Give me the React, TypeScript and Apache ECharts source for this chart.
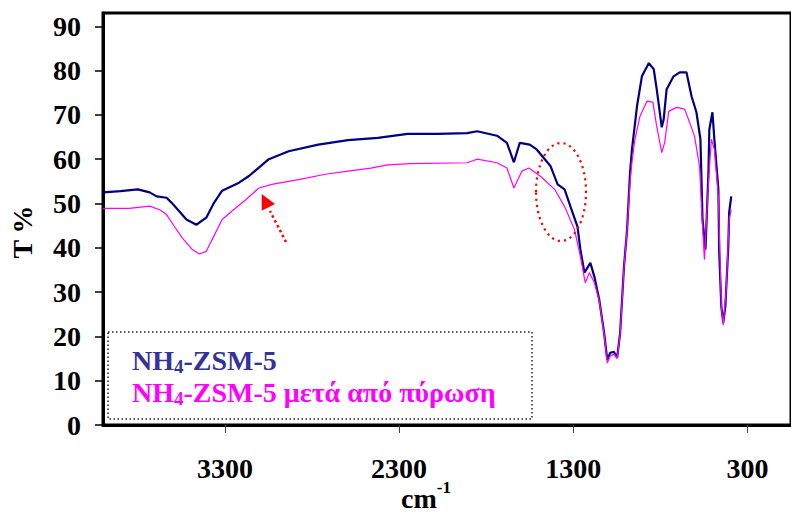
import React, { useEffect, useRef } from "react";
import * as echarts from "echarts";

// Wavenumbers (cm-1) and transmittance (%)
const navyWn = [4000, 3900, 3800, 3732, 3692, 3635, 3607, 3561, 3521, 3464, 3407, 3362, 3316, 3219, 3162, 3105, 3048, 2934, 2764, 2593, 2422, 2251, 2080, 1909, 1852, 1738, 1681, 1641, 1607, 1550, 1510, 1430, 1390, 1350, 1316, 1276, 1259, 1236, 1202, 1179, 1151, 1123, 1105, 1088, 1066, 1048, 1031, 1009, 991, 974, 963, 934, 906, 866, 838, 821, 792, 781, 764, 724, 689, 650, 621, 593, 570, 558, 541, 524, 519, 501, 490, 467, 462, 450, 439, 427, 410, 405, 393];
const navyT = [52.5, 52.8, 53.2, 52.5, 51.6, 51.3, 50.2, 48.2, 46.4, 45.2, 46.8, 50.2, 52.9, 54.7, 56.2, 58.1, 60, 61.8, 63.3, 64.3, 64.8, 65.7, 65.7, 65.9, 66.3, 65.3, 63.7, 59.3, 63.7, 63.3, 62.2, 58.4, 54.3, 53.2, 49.3, 44.8, 39.6, 34.4, 36.6, 33.5, 28.3, 20.8, 14.7, 16.3, 16.5, 15.2, 20.8, 35.7, 44.1, 57, 62.2, 72, 78.7, 81.7, 80.3, 75.8, 67.2, 69, 75.8, 78.7, 79.6, 79.6, 74.2, 70.6, 64.5, 46.4, 39.6, 57, 66.7, 70.6, 64.5, 53.2, 38.9, 26.7, 23.1, 26.7, 40.3, 48, 51.6];

const magWn = [4000, 3850, 3732, 3675, 3635, 3590, 3544, 3487, 3447, 3407, 3373, 3316, 3259, 3179, 3105, 3031, 2877, 2724, 2593, 2462, 2365, 2234, 1909, 1852, 1738, 1681, 1641, 1595, 1555, 1487, 1407, 1350, 1293, 1259, 1231, 1208, 1179, 1151, 1123, 1105, 1088, 1066, 1048, 1031, 1009, 991, 974, 963, 946, 917, 877, 843, 821, 792, 775, 752, 707, 661, 632, 604, 575, 558, 547, 524, 507, 490, 467, 450, 439, 422, 405, 393];
const magT = [48.9, 48.9, 49.4, 48.6, 47.5, 44.8, 42.2, 39.6, 38.6, 39.2, 41.9, 46.4, 48.3, 50.9, 53.5, 54.3, 55.4, 56.6, 57.3, 58, 58.7, 59, 59.2, 60, 59.2, 58, 53.5, 57.3, 58, 56.1, 53.2, 49.3, 44.1, 38, 32.1, 34.4, 32.1, 28, 20.5, 14, 15.5, 16, 15, 20.5, 35.5, 44, 55, 59.3, 64.5, 69.7, 73.1, 72.9, 67.4, 61.5, 63.8, 70.8, 71.7, 71.3, 68.3, 65.2, 58.4, 44.8, 37.3, 54.8, 64.5, 62.2, 51.6, 26.7, 22.6, 30.5, 46.4, 48.6];

const xTicks = [300, 1300, 2300, 3300];
const yTicks = [0, 10, 20, 30, 40, 50, 60, 70, 80, 90];

const seriesNames = ["NH4-ZSM-5", "NH4-ZSM-5 μετά από πύρωση"];

const FONT = "'Liberation Serif', 'Times New Roman', serif";

export default function App() {
  const ref = useRef<HTMLDivElement>(null);
  useEffect(() => {
    if (!ref.current) return;
    const chart = echarts.init(ref.current, undefined, { renderer: "svg" });
    const navyData = navyWn.map((w, i) => [w, navyT[i]]);
    const magData = magWn.map((w, i) => [w, magT[i]]);
    const sub = (name: string) => {
      const parts = name.split("4");
      return "{n|" + parts[0] + "}{s|4}{n|" + parts.slice(1).join("4") + "}";
    };
    chart.setOption({
      animation: false,
      backgroundColor: "#ffffff",
      grid: {
        left: 103,
        right: -5,
        top: 13,
        bottom: 90,
        show: true,
        borderColor: "#000",
        borderWidth: 3,
        containLabel: false,
      },
      xAxis: {
        type: "value",
        inverse: true,
        min: 50,
        max: 4000,
        splitLine: { show: false },
        axisLine: { show: true, lineStyle: { color: "#000", width: 3 } },
        axisTick: {
          show: true,
          customValues: xTicks,
          length: 8,
          lineStyle: { color: "#444", width: 1 },
        },
        axisLabel: {
          customValues: xTicks,
          formatter: (v: number) => String(v),
          margin: 29,
          fontFamily: FONT,
          fontWeight: "bold",
          fontSize: 28,
          color: "#000",
        },
      },
      yAxis: {
        type: "value",
        min: 0,
        max: 93,
        splitLine: { show: false },
        axisLine: { show: true, lineStyle: { color: "#000", width: 3 } },
        axisTick: {
          show: true,
          customValues: yTicks,
          length: 8,
          lineStyle: { color: "#000", width: 1.5 },
        },
        axisLabel: {
          customValues: yTicks,
          formatter: (v: number) => String(v),
          margin: 22,
          fontFamily: FONT,
          fontWeight: "bold",
          fontSize: 28,
          color: "#000",
        },
      },
      legend: {
        orient: "vertical",
        left: 127,
        top: 345,
        padding: 0,
        itemGap: 1,
        itemWidth: 0,
        itemHeight: 28,
        icon: "none",
        selectedMode: false,
        formatter: (name: string) => sub(name),
        data: [
          { name: seriesNames[0], textStyle: { color: "#333399" } },
          { name: seriesNames[1], textStyle: { color: "#FF00FF" } },
        ],
        textStyle: {
          fontFamily: FONT,
          fontWeight: "bold",
          fontSize: 28,
          rich: {
            n: { fontFamily: FONT, fontWeight: "bold", fontSize: 28, lineHeight: 28 },
            s: {
              fontFamily: FONT,
              fontWeight: "bold",
              fontSize: 19,
              lineHeight: 19,
              padding: [12, 0, 0, 0],
            },
          },
        },
      },
      series: [
        {
          name: seriesNames[0],
          type: "line",
          data: navyData,
          symbol: "none",
          lineStyle: { color: "#000080", width: 2.2 },
          itemStyle: { color: "#000080" },
          z: 2,
        },
        {
          name: seriesNames[1],
          type: "line",
          data: magData,
          symbol: "none",
          lineStyle: { color: "#FF00FF", width: 1.2 },
          itemStyle: { color: "#FF00FF" },
          z: 3,
        },
      ],
      graphic: [
        {
          type: "rect",
          shape: { x: 108, y: 332, width: 424, height: 87 },
          style: { fill: "none", stroke: "#222", lineWidth: 1.5, lineDash: [1.5, 2.5] },
          z: 10,
        },
        {
          type: "ellipse",
          shape: { cx: 561, cy: 192, rx: 25, ry: 49 },
          style: { fill: "none", stroke: "#FF0000", lineWidth: 2.2, lineDash: [2.2, 4] },
          z: 10,
        },
        {
          type: "line",
          shape: { x1: 286, y1: 242, x2: 270, y2: 211 },
          style: { stroke: "#FF0000", lineWidth: 2.5, lineDash: [2.5, 3] },
          z: 10,
        },
        {
          type: "polygon",
          shape: { points: [[261.7, 194], [261.7, 210.7], [275, 204]] },
          style: { fill: "#FF0000" },
          z: 10,
        },
        {
          type: "text",
          x: 22.5,
          y: 232,
          rotation: Math.PI / 2,
          style: {
            text: "T %",
            font: "bold 28px " + FONT,
            fill: "#000",
            align: "center",
            verticalAlign: "middle",
          },
          z: 10,
        },
        {
          type: "text",
          x: 401,
          y: 481.5,
          style: {
            text: "{a|cm}{b|-1}",
            fill: "#000",
            align: "left",
            verticalAlign: "top",
            rich: {
              a: {
                fontFamily: FONT,
                fontWeight: "bold",
                fontSize: 28,
                lineHeight: 28,
                padding: [5, 0, 0, 0],
                fill: "#000",
              },
              b: {
                fontFamily: FONT,
                fontWeight: "bold",
                fontSize: 17,
                lineHeight: 17,
                padding: [0, 0, 16, 0],
                fill: "#000",
              },
            },
          },
          z: 10,
        },
      ],
    });
    return () => chart.dispose();
  }, []);
  return (
    <div
      ref={ref}
      style={{ position: "absolute", left: 0, top: 0, width: 791, height: 515 }}
    />
  );
}
